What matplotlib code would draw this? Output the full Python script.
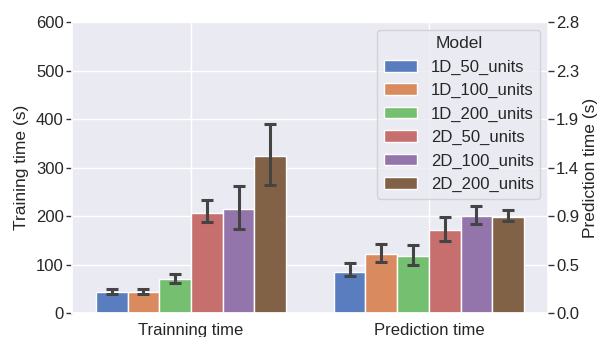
import numpy as np
import matplotlib
matplotlib.use("Agg")
import matplotlib.pyplot as plt
import seaborn as sns

groups = ["Trainning time", "Prediction time"]
models = ["1D_50_units", "1D_100_units", "1D_200_units",
          "2D_50_units", "2D_100_units", "2D_200_units"]

# training time (s): mean and confidence interval bounds
train_mean = [42.7, 43.0, 69.5, 205.5, 215.0, 324.5]
train_lo = [38.5, 38.5, 61.0, 187.0, 174.0, 264.0]
train_hi = [50.0, 50.0, 80.5, 233.0, 261.0, 389.0]

# prediction time (s): mean and confidence interval bounds
pred_mean = [0.394, 0.569, 0.548, 0.798, 0.938, 0.919]
pred_lo = [0.356, 0.490, 0.465, 0.693, 0.859, 0.887]
pred_hi = [0.478, 0.663, 0.651, 0.919, 1.031, 0.989]

train_max = 600
pred_max = 2.8

sns.set_theme(style="darkgrid", palette="muted")
plt.rcParams['font.family'] = ['Liberation Sans', 'DejaVu Sans']

colors = [sns.desaturate(c, 0.75) for c in sns.color_palette("muted", len(models))]

fig = plt.figure(figsize=(6.0, 3.37), dpi=100)
ax = fig.add_axes([0.12, 0.0712, 0.793, 0.8635])

# prediction times share the left axis, scaled onto the training range
scale = train_max / pred_max
means = np.array([train_mean, np.array(pred_mean) * scale])
lows = np.array([train_lo, np.array(pred_lo) * scale])
highs = np.array([train_hi, np.array(pred_hi) * scale])

n = len(models)
width = 0.8 / n
x = np.arange(len(groups))
for i, (name, col) in enumerate(zip(models, colors)):
    pos = x - 0.4 + width * (i + 0.5)
    ax.bar(pos, means[:, i], width=width, color=col, edgecolor="white",
           linewidth=1.0, label=name, zorder=2)
    yerr = np.vstack([means[:, i] - lows[:, i], highs[:, i] - means[:, i]])
    ax.errorbar(pos, means[:, i], yerr=yerr, fmt="none", ecolor="#444444",
                elinewidth=2.2, capsize=4.3, capthick=2.2, zorder=3)

ax.set_xlim(-0.5, 1.5)
ax.set_xticks(x)
ax.set_xticklabels(groups)
ax.set_ylim(0, train_max)
ax.set_yticks(np.arange(0, train_max + 1, 100))
ax.set_ylabel("Training time (s)", fontsize=12.5, labelpad=5)
ax.tick_params(axis="y", left=True, length=4, width=1, color="#333333",
               labelsize=12, pad=2)
ax.tick_params(axis="x", labelsize=12, pad=1.5)

ax2 = ax.twinx()
ax2.set_ylim(0, pred_max)
ax2.set_yticks(np.linspace(0, pred_max, 7))
ax2.set_yticklabels(["%.1f" % v for v in np.linspace(0, pred_max, 7)])
ax2.grid(False)
ax2.set_ylabel("Prediction time (s)", fontsize=12.5, labelpad=3)
ax2.tick_params(axis="y", right=True, length=4, width=1, color="#333333",
                labelsize=12, pad=2)
for sp in ax2.spines.values():
    sp.set_visible(False)

leg = ax.legend(title="Model", loc="upper right", fontsize=12,
                title_fontsize=12.5, framealpha=0.8, labelspacing=0.5,
                handlelength=2.0, borderaxespad=0.45)

fig.savefig("out.png", dpi=100)
